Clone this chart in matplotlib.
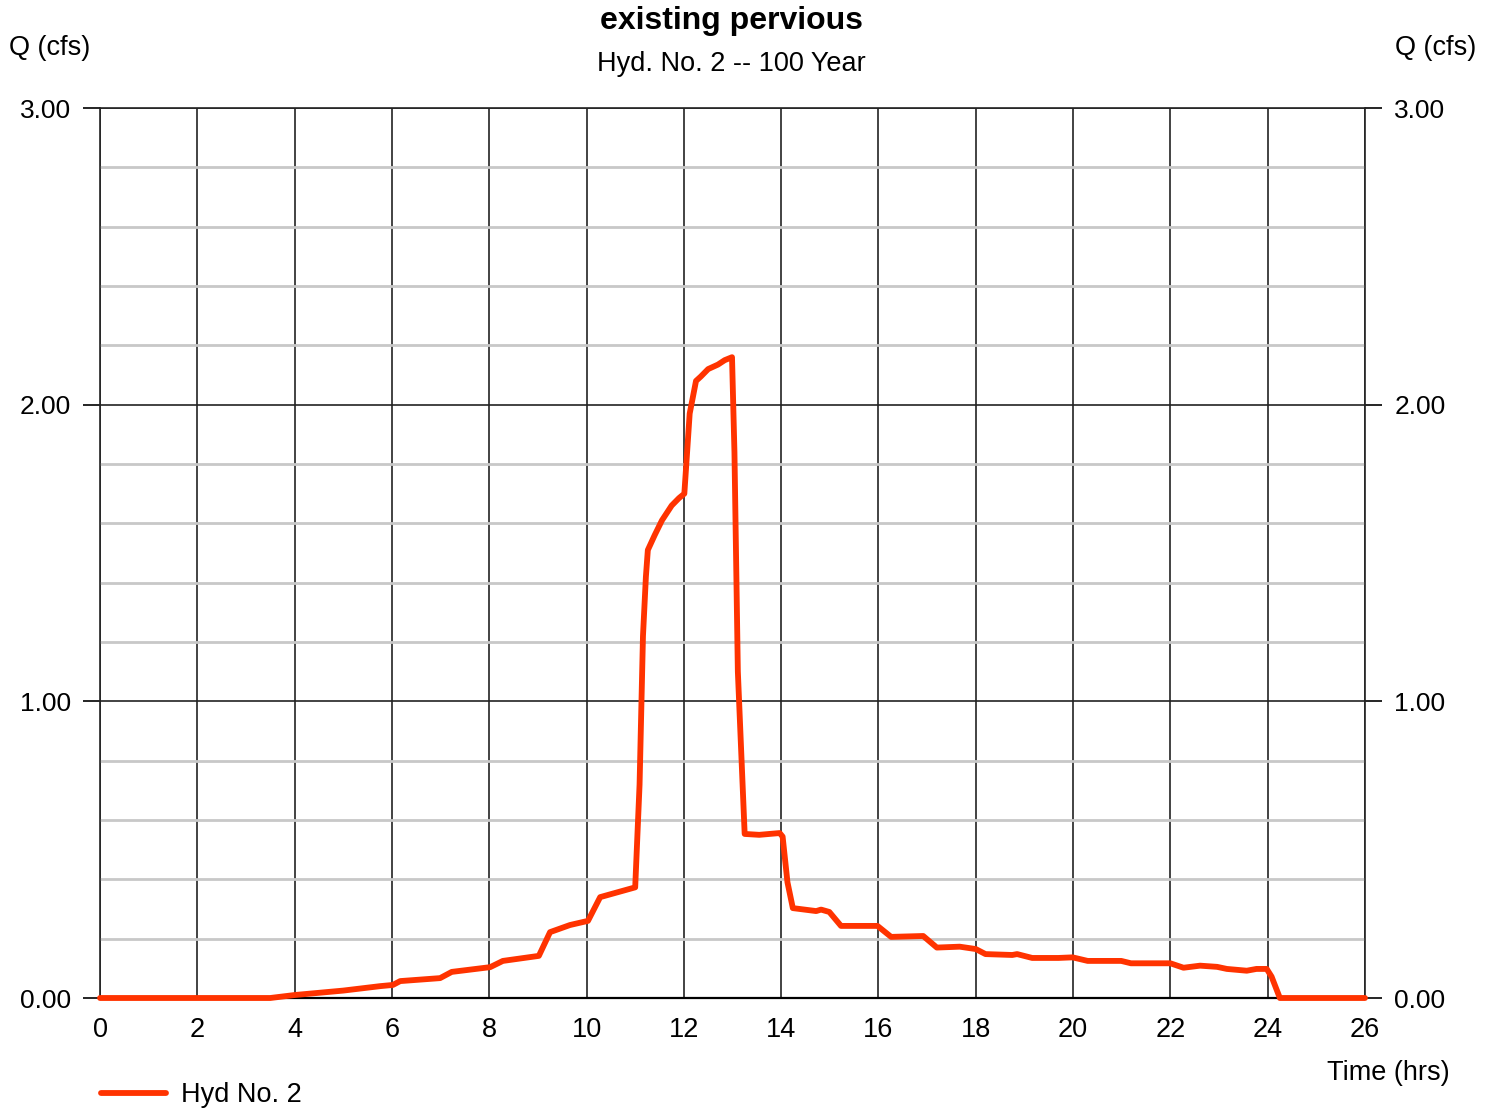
import matplotlib
matplotlib.use("Agg")
from matplotlib import pyplot as plt
from matplotlib.ticker import MultipleLocator

plt.rcParams['font.family'] = ['Liberation Sans', 'DejaVu Sans']

# Hydrograph (hrs, cfs)
time_hrs = [0.0, 3.5, 4.0, 5.0, 5.76, 6.02, 6.17, 6.99, 7.23, 8.02, 8.28, 9.02,
            9.25, 9.66, 10.03, 10.28, 11.0, 11.09, 11.16, 11.22, 11.26, 11.4, 11.55,
            11.75, 11.9, 12.01, 12.12, 12.25, 12.35, 12.5, 12.7, 12.84, 12.99,
            13.04, 13.11, 13.25, 13.55, 13.97, 14.03, 14.13, 14.24, 14.72, 14.82,
            14.99, 15.23, 15.98, 16.26, 16.92, 17.2, 17.67, 18.0, 18.2, 18.75,
            18.85, 19.16, 19.7, 19.99, 20.3, 20.99, 21.19, 22.0, 22.27, 22.61,
            22.96, 23.16, 23.57, 23.77, 23.98, 24.08, 24.25, 26.0]
flow_cfs = [0.0, 0.0, 0.01, 0.025, 0.04, 0.044, 0.057, 0.067, 0.088, 0.104, 0.125,
            0.142, 0.222, 0.246, 0.26, 0.34, 0.373, 0.72, 1.22, 1.42, 1.51, 1.56,
            1.61, 1.66, 1.685, 1.70, 1.97, 2.08, 2.095, 2.12, 2.135, 2.15, 2.16,
            1.84, 1.10, 0.553, 0.55, 0.556, 0.544, 0.39, 0.303, 0.293, 0.298,
            0.29, 0.243, 0.243, 0.206, 0.209, 0.17, 0.173, 0.165, 0.148, 0.145,
            0.148, 0.135, 0.135, 0.137, 0.125, 0.125, 0.117, 0.117, 0.102, 0.109,
            0.105, 0.098, 0.092, 0.098, 0.098, 0.072, 0.0, 0.0]

x_ticks = list(range(0, 27, 2))
y_ticks = [0.0, 1.0, 2.0, 3.0]

fig = plt.figure(figsize=(14.94, 11.10), dpi=100)
ax = fig.add_axes([100 / 1494, 1 - 998 / 1110, 1265 / 1494, 890 / 1110])

ax.set_xlim(0, 26)
ax.set_ylim(0, 3)

# grid: grey minor every 0.2, black major every 1.0 / 2 hrs
ax.yaxis.set_minor_locator(MultipleLocator(0.2))
ax.grid(which='minor', axis='y', color='#c8c8c8', linewidth=2.0)
ax.grid(which='major', axis='both', color='#222222', linewidth=1.2)
ax.set_axisbelow(True)

ax.plot(time_hrs, flow_cfs, color='#ff3300', linewidth=4.2,
        solid_capstyle='round', solid_joinstyle='round', label='Hyd No. 2', zorder=3,
        clip_on=False)

ax.set_xticks(x_ticks)
ax.set_xticklabels([str(t) for t in x_ticks])
ax.set_yticks(y_ticks)
ax.set_yticklabels([f'{v:.2f}' for v in y_ticks])
ax.tick_params(axis='x', length=0, labelsize=19.5, pad=14)
ax.tick_params(axis='y', which='major', length=12, width=1.2, labelsize=19, pad=9,
               right=True, labelright=True)
ax.tick_params(axis='y', which='minor', length=0)

for spine in ax.spines.values():
    spine.set_color('#222222')
    spine.set_linewidth(1.2)
ax.spines['bottom'].set_color('black')
ax.spines['bottom'].set_linewidth(1.6)

fig.text(732 / 1494, 1 - 21 / 1110, 'existing pervious', ha='center', va='center',
         fontsize=23, fontweight='bold')
fig.text(731 / 1494, 1 - 64 / 1110, 'Hyd. No. 2 -- 100 Year', ha='center', va='center',
         fontsize=19.5)
fig.text(9 / 1494, 1 - 48 / 1110, 'Q (cfs)', ha='left', va='center', fontsize=19.5)
fig.text(1476 / 1494, 1 - 48 / 1110, 'Q (cfs)', ha='right', va='center', fontsize=19.5)
fig.text(1450 / 1494, 1 - 1073 / 1110, 'Time (hrs)', ha='right', va='center', fontsize=19.5)

ax.legend(loc='center left', bbox_to_anchor=(101 / 1494, 1 - 1095 / 1110),
          bbox_transform=fig.transFigure, frameon=False, fontsize=19.5,
          borderpad=0, borderaxespad=0, handlelength=2.4, handletextpad=0.55)

fig.savefig('out.png', dpi=100)
plt.close(fig)
